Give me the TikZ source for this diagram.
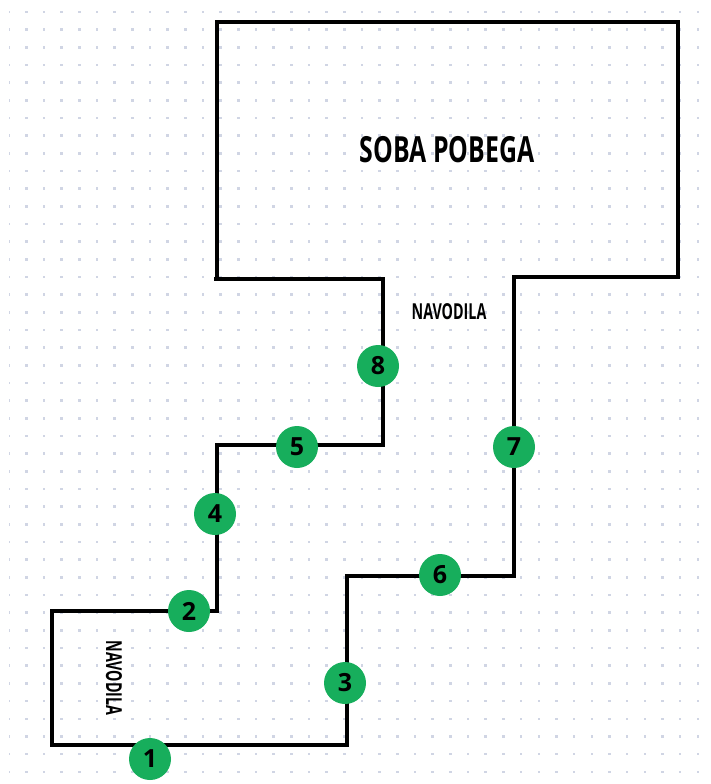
\documentclass[tikz,border=0pt]{standalone}
\usepackage{fontspec}
\setmainfont{Open Sans}
\usepackage{xcolor}
\usetikzlibrary{positioning}
\definecolor{griddot}{HTML}{D0D5E4}
\definecolor{markgreen}{HTML}{17AE5C}

\begin{document}
\begin{tikzpicture}[x=1pt, y=-1pt, every node/.style={font=\small},
    wall/.style={line width=4.6pt, line join=miter, black},
    griddotmark/.style={griddot, line width=0pt},
    marker/.style={circle, fill=markgreen, minimum size=42pt, inner sep=0pt, font=\fontsize{25}{25}\selectfont\bfseries},
    hand/.style={inner sep=0pt}]
    \useasboundingbox (0,0) rectangle (710,784);
    \fill[white] (0,0) rectangle (710,784);
    % dots
    \foreach \j in {0,...,43} {
        \fill[griddotmark] (8.5,12+17.67*\j-1.3) rectangle ++(1,2.6);
        \foreach \i in {1,...,39} {
            \fill[griddotmark] (8.7+17.67*\i-1.3,12+17.67*\j-1.3) rectangle ++(2.6,2.6);
        }
    }
    % walls
    \draw[wall] (214,279) -- (383,279) -- (383,445) -- (217,445) -- (217,611) -- (52,611) -- (52,745) -- (347,745) -- (347,576) -- (514,576) -- (514,277) -- (678,277) -- (678,22) -- (217,22) -- (217,279);
    % labels
    \node[hand, font=\fontsize{36}{36}\selectfont\bfseries, xscale=0.69] (room) at (447,150) {SOBA POBEGA};
    \node[hand, font=\fontsize{22}{22}\selectfont\bfseries, xscale=0.65] (topnote) at (449,312) {NAVODILA};
    \node[hand, font=\fontsize{22}{22}\selectfont\bfseries, rotate=-90, xscale=0.65] (sidenote) at (114,678) {NAVODILA};
    % stops
    \node[marker] (one) at (150,759) {1};
    \node[marker] (two) at (189,611) {2};
    \node[marker] (three) at (345,683) {3};
    \node[marker] (four) at (215,514) {4};
    \node[marker] (five) at (297,447) {5};
    \node[marker] (six) at (440,575) {6};
    \node[marker] (seven) at (514,447) {7};
    \node[marker] (eight) at (378,366) {8};
\end{tikzpicture}
\end{document}
